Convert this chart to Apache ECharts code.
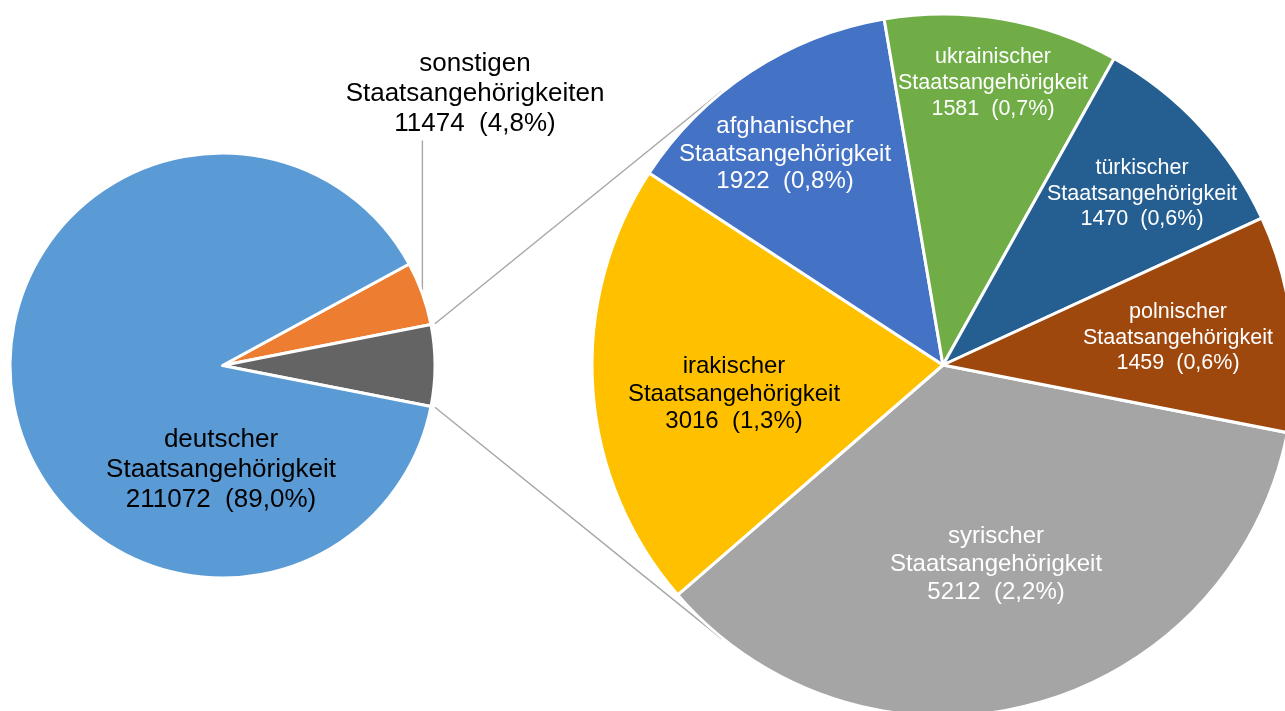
<!DOCTYPE html>
<html><head><meta charset="utf-8">
<script src="https://cdn.jsdelivr.net/npm/echarts@6/dist/echarts.min.js"></script>
<style>html,body{margin:0;padding:0;background:#fff}#c{width:1285px;height:711px}</style>
</head><body><div id="c"></div>
<script>
// ---- data ----
const mainCategories = ['sonstigen Staatsangehörigkeiten', 'deutscher Staatsangehörigkeit'];
const mainValues = [11474, 211072];
const detailCategories = ['syrischer Staatsangehörigkeit', 'irakischer Staatsangehörigkeit', 'afghanischer Staatsangehörigkeit', 'ukrainischer Staatsangehörigkeit', 'türkischer Staatsangehörigkeit', 'polnischer Staatsangehörigkeit'];
const detailValues = [5212, 3016, 1922, 1581, 1470, 1459];

// ---- styles / layout ----
const mainColors = ['#ED7D31', '#646464', '#5B9BD5'];
const detailColors = ['#A5A5A5', '#FFC000', '#4472C4', '#70AD47', '#255E91', '#9E480E'];
const C1 = [222.5, 365.5], R1 = 212.5;
const C2 = [943, 365], R2 = 351;
const FONT = "'Liberation Sans', Arial, sans-serif";

const detailSum = detailValues.reduce((a, b) => a + b, 0);
const total = mainValues[0] + mainValues[1] + detailSum;
const pct = v => (v / total * 100).toFixed(1).replace('.', ',');
const fmt = p => p.name.replace(' ', '\n') + '\n' + p.value + '  (' + pct(p.value) + '%)';

const orangeDeg = mainValues[0] / total * 360;
const grayDeg = detailSum / total * 360;
const mainStart = orangeDeg + grayDeg / 2;

// label placements (text block centres)
const mainLabelPos = [[475, 93.5], null, [221, 470]];
const detailLabelPos = [[996, 564], [734, 394], [785, 154], [993, 83.5], [1142, 194], [1178, 338]];
const detailFont = [[24, 28], [24, 27.5], [24, 27.5], [21.5, 26], [21.5, 25.5], [21.5, 25.5]];
const detailTextColor = ['#fff', '#000', '#fff', '#fff', '#fff', '#fff'];

const mainData = [
  {name: mainCategories[0], value: mainValues[0], itemStyle: {color: mainColors[0]},
   label: {show: true, color: '#000', fontSize: 26, lineHeight: 30}},
  {name: 'Auswahl', value: detailSum, itemStyle: {color: mainColors[1]}, label: {show: false}},
  {name: mainCategories[1], value: mainValues[1], itemStyle: {color: mainColors[2]},
   label: {show: true, color: '#000', fontSize: 26, lineHeight: 30}}
];
const detailData = detailCategories.map((n, i) => ({
  name: n, value: detailValues[i], itemStyle: {color: detailColors[i]},
  label: {show: true, color: detailTextColor[i], fontSize: detailFont[i][0], lineHeight: detailFont[i][1]}
}));

// connector geometry
const rad = d => d * Math.PI / 180;
function onCircle(C, R, deg) { return [C[0] + R * Math.cos(rad(deg)), C[1] - R * Math.sin(rad(deg))]; }
function tangent(P, C, R, upper) {
  const dx = P[0] - C[0], dy = P[1] - C[1];
  const d = Math.hypot(dx, dy), th = Math.atan2(dy, dx), a = Math.acos(R / d);
  const p1 = [C[0] + R * Math.cos(th + a), C[1] + R * Math.sin(th + a)];
  const p2 = [C[0] + R * Math.cos(th - a), C[1] + R * Math.sin(th - a)];
  return upper ? (p1[1] < p2[1] ? p1 : p2) : (p1[1] > p2[1] ? p1 : p2);
}
const pUp = onCircle(C1, R1 + 4, grayDeg / 2);
const pLo = onCircle(C1, R1 + 4, -grayDeg / 2);
const tUp = tangent(pUp, C2, R2 + 1, true);
const tLo = tangent(pLo, C2, R2 + 1, false);
const leadA = onCircle(C1, R1, mainStart - orangeDeg / 2);
const leadTopY = mainLabelPos[0][1] + 47;

const lineStyle = {stroke: '#A6A6A6', lineWidth: 1.4};

const chart = echarts.init(document.getElementById('c'), null, {renderer: 'canvas'});
chart.setOption({
  animation: false,
  backgroundColor: '#ffffff',
  textStyle: {fontFamily: FONT},
  graphic: [
    {type: 'line', z: 0, shape: {x1: pUp[0], y1: pUp[1], x2: tUp[0], y2: tUp[1]}, style: lineStyle},
    {type: 'line', z: 0, shape: {x1: pLo[0], y1: pLo[1], x2: tLo[0], y2: tLo[1]}, style: lineStyle},
    {type: 'line', z: 0, shape: {x1: leadA[0], y1: leadA[1], x2: leadA[0], y2: leadTopY}, style: lineStyle}
  ],
  series: [
    {
      type: 'pie', center: C1, radius: R1, startAngle: mainStart, clockwise: true,
      avoidLabelOverlap: false, silent: true,
      itemStyle: {borderColor: '#fff', borderWidth: 3},
      label: {position: 'inside', formatter: fmt, fontFamily: FONT, align: 'center'},
      labelLine: {show: false},
      labelLayout: p => {
        const pos = mainLabelPos[p.dataIndex];
        return pos ? {x: pos[0], y: pos[1], align: 'center', verticalAlign: 'middle'} : {};
      },
      data: mainData
    },
    {
      type: 'pie', center: C2, radius: R2, startAngle: -11.1, clockwise: true,
      avoidLabelOverlap: false, silent: true,
      itemStyle: {borderColor: '#fff', borderWidth: 3},
      label: {position: 'inside', formatter: fmt, fontFamily: FONT, align: 'center'},
      labelLine: {show: false},
      labelLayout: p => {
        const pos = detailLabelPos[p.dataIndex];
        return {x: pos[0], y: pos[1], align: 'center', verticalAlign: 'middle'};
      },
      data: detailData
    }
  ]
});
</script>
</body></html>
